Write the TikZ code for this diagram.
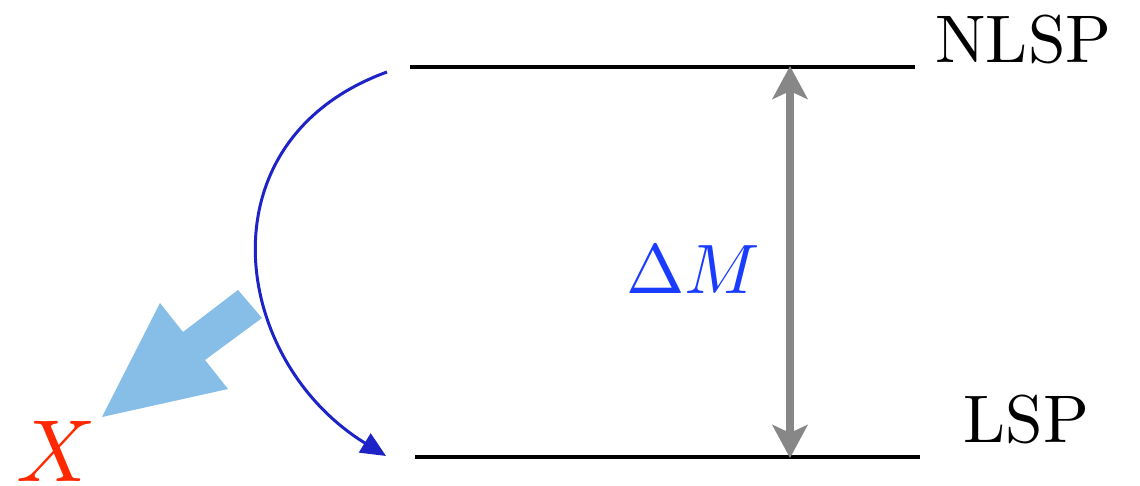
\documentclass[tikz,border=0pt]{standalone}
\usepackage{fontspec}
\newfontfamily\lmten{lmroman10-regular.otf}
\DeclareFontShape{OML}{cmm}{m}{it}{<->cmmi10}{}
\DeclareFontShape{OT1}{cmr}{m}{n}{<->cmr10}{}
\usetikzlibrary{arrows.meta}
\definecolor{levgray}{RGB}{135,135,135}
\definecolor{curveblue}{RGB}{30,35,200}
\definecolor{dmblue}{RGB}{25,60,255}
\definecolor{bigblue}{RGB}{135,190,232}
\definecolor{xred}{RGB}{255,40,0}
\tikzset{
  level/.style={line width=2pt, black},
  lbl/.style={inner sep=0pt, anchor=base west, font=\lmten\fontsize{33.7}{40}\selectfont},
}
\begin{document}
\begin{tikzpicture}[x=0.5pt,y=-0.5pt]
\useasboundingbox (0,0) rectangle (1140,486);
% levels
\coordinate (t1) at (410,67);
\coordinate (t2) at (915,67);
\coordinate (b1) at (415,457);
\coordinate (b2) at (920,457);
\draw[level] (t1) -- (t2);
\draw[level] (b1) -- (b2);
\node[lbl] (nlsp) at (935,63) {NLSP};
\node[lbl] (lsp) at (963,442) {LSP};
% mass gap
\coordinate (gt) at (790,66);
\coordinate (gb) at (790,458);
\draw[levgray, line width=4pt, {Stealth[length=16.5pt,width=17.5pt,inset=4pt]}-{Stealth[length=16.5pt,width=17.5pt,inset=4pt]}] (gt) -- (gb);
\node[inner sep=0pt, anchor=base west, text=dmblue, font=\fontsize{35}{40}\selectfont] (dm) at (626,293) {$\Delta M$};
% big light-blue arrow
\fill[bigblue] (238,290) -- (183,332) -- (160,303) -- (102,417) -- (228,389) -- (205,360) -- (262,318) -- cycle;
% decay curve
\coordinate (cs) at (387,72);
\coordinate (ce) at (386,456);
\draw[curveblue, line width=1.5pt, -{Triangle[length=12.5pt,width=11pt]}] (cs) .. controls (200,140) and (230,360) .. (ce);
\node[inner sep=0pt, anchor=base west, text=xred, font=\fontsize{44}{50}\selectfont] (x) at (16,481) {$X$};
\end{tikzpicture}
\end{document}
